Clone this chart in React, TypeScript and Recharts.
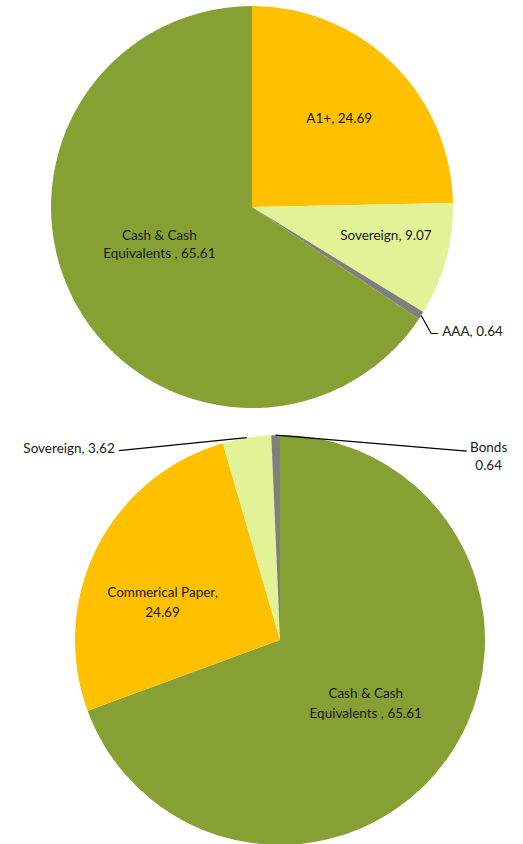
import React from 'react';
import { PieChart, Pie, Cell } from 'recharts';

const ratingNames = ['A1+', 'Sovereign', 'AAA', 'Cash & Cash Equivalents '];
const ratingValues = [24.69, 9.07, 0.64, 65.61];
const ratingColors = ['#FFC000', '#E2F296', '#7F7F7F', '#86A033'];

const assetNames = ['Cash & Cash Equivalents ', 'Commerical Paper', 'Sovereign', 'Bonds'];
const assetValues = [65.61, 24.69, 3.62, 0.64];
const assetColors = ['#86A033', '#FFC000', '#E2F296', '#7F7F7F'];

const ratingData = ratingNames.map((name, i) => ({ name, value: ratingValues[i] }));
const assetData = assetNames.map((name, i) => ({ name, value: assetValues[i] }));

// label placement per slice (layout only)
type LabelCfg =
  | { kind: 'in'; r: number; dx: number; dy: number; lines: string[]; gap: number }
  | { kind: 'out'; knee?: [number, number]; end: [number, number]; tx: number; anchor: 'start' | 'end' | 'middle'; lines: string[]; gap: number };

const ratingLabels: LabelCfg[] = [
  { kind: 'in', r: 0.62, dx: 0, dy: 0, lines: ['A1+, 24.69'], gap: 18 },
  { kind: 'in', r: 0.68, dx: 2, dy: -8, lines: ['Sovereign, 9.07'], gap: 18 },
  { kind: 'out', knee: [10, 18], end: [17, 18], tx: 21, anchor: 'start', lines: ['AAA, 0.64'], gap: 18 },
  { kind: 'in', r: 0.5, dx: -4, dy: -10, lines: ['Cash & Cash', 'Equivalents , 65.61'], gap: 18 },
];

const assetLabels: LabelCfg[] = [
  { kind: 'in', r: 0.51, dx: 0, dy: 3, lines: ['Cash & Cash', 'Equivalents , 65.61'], gap: 20 },
  { kind: 'in', r: 0.62, dx: -4, dy: 19, lines: ['Commerical Paper,', '24.69'], gap: 20 },
  { kind: 'out', end: [-128, 13], tx: -132, anchor: 'end', lines: ['Sovereign, 3.62'], gap: 18 },
  { kind: 'out', end: [191, 16], tx: 213, anchor: 'middle', lines: ['Bonds', '0.64'], gap: 18 },
];

const RAD = Math.PI / 180;
const font = { fontFamily: 'Lato, Carlito, Calibri, sans-serif', fontSize: 13.5, fill: '#1a1a1a' };
const noMargin = { top: 0, right: 0, bottom: 0, left: 0 };

const makeLabel = (cfgs: LabelCfg[]) => (props: any) => {
  const { cx, cy, midAngle, outerRadius, index } = props;
  const cfg = cfgs[index];
  const cos = Math.cos(-midAngle * RAD);
  const sin = Math.sin(-midAngle * RAD);
  if (cfg.kind === 'in') {
    const x = cx + cos * outerRadius * cfg.r + cfg.dx;
    const y = cy + sin * outerRadius * cfg.r + cfg.dy;
    const top = y - ((cfg.lines.length - 1) * cfg.gap) / 2;
    return (
      <text key={index} x={x} y={top} textAnchor="middle" dominantBaseline="central" {...font}>
        {cfg.lines.map((l, i) => (
          <tspan key={i} x={x} y={top + i * cfg.gap}>{l}</tspan>
        ))}
      </text>
    );
  }
  const ex = cx + cos * outerRadius;
  const ey = cy + sin * outerRadius;
  const pts = [[ex, ey]];
  if (cfg.knee) pts.push([ex + cfg.knee[0], ey + cfg.knee[1]]);
  pts.push([ex + cfg.end[0], ey + cfg.end[1]]);
  const tx = ex + cfg.tx;
  const ty = ey + cfg.end[1] - (cfg.lines.length > 1 ? 4 : 3);
  return (
    <g key={index}>
      <polyline points={pts.map((p) => p.join(',')).join(' ')} fill="none" stroke="#000" strokeWidth={1.2} />
      <text x={tx} y={ty} textAnchor={cfg.anchor} dominantBaseline="central" {...font}>
        {cfg.lines.map((l, i) => (
          <tspan key={i} x={tx} y={ty + i * cfg.gap}>{l}</tspan>
        ))}
      </text>
    </g>
  );
};

const App: React.FC = () => {
  return (
    <div style={{ position: 'absolute', left: 0, top: 0, width: 523, height: 844, background: '#fff' }}>
      <div style={{ position: 'absolute', left: 0, top: 0 }}>
        <PieChart width={523} height={420} margin={noMargin}>
          <Pie
            data={ratingData}
            dataKey="value"
            nameKey="name"
            cx={252}
            cy={207}
            outerRadius={201}
            startAngle={90}
            endAngle={-270}
            stroke="none"
            labelLine={false}
            label={makeLabel(ratingLabels)}
            isAnimationActive={false}
          >
            {ratingData.map((d, i) => (
              <Cell key={d.name} fill={ratingColors[i]} />
            ))}
          </Pie>
        </PieChart>
      </div>
      <div style={{ position: 'absolute', left: 0, top: 420 }}>
        <PieChart width={523} height={424} margin={noMargin}>
          <Pie
            data={assetData}
            dataKey="value"
            nameKey="name"
            cx={280}
            cy={220}
            outerRadius={205}
            startAngle={90}
            endAngle={-270}
            stroke="none"
            labelLine={false}
            label={makeLabel(assetLabels)}
            isAnimationActive={false}
          >
            {assetData.map((d, i) => (
              <Cell key={d.name} fill={assetColors[i]} />
            ))}
          </Pie>
        </PieChart>
      </div>
    </div>
  );
};

export default App;
